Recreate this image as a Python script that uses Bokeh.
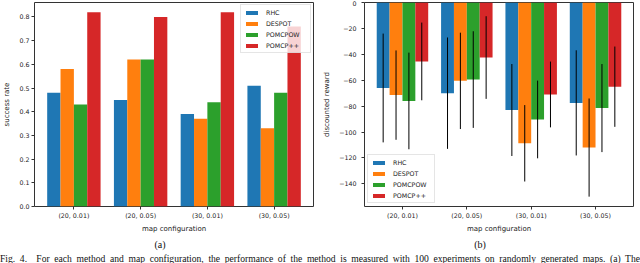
import numpy as np
from bokeh.plotting import figure
from bokeh.models import (FactorRange, Range1d, FixedTicker, PrintfTickFormatter,
                          CustomJSTickFormatter, ColumnDataSource, Div)
from bokeh.layouts import row, column
from bokeh.transform import dodge
from bokeh.embed import file_html
from bokeh.resources import INLINE

# ---------------- data ----------------
configs = ["(20, 0.01)", "(20, 0.05)", "(30, 0.01)", "(30, 0.05)"]
methods = ["RHC", "DESPOT", "POMCPOW", "POMCP++"]
colors = ["#1f77b4", "#ff7f0e", "#2ca02c", "#d62728"]

success_rhc = [0.48, 0.45, 0.39, 0.51]
success_despot = [0.58, 0.62, 0.37, 0.33]
success_pomcpow = [0.43, 0.62, 0.44, 0.48]
success_pomcpp = [0.82, 0.80, 0.82, 0.76]

reward_rhc = [-66.0, -70.0, -83.0, -77.5]
reward_despot = [-71.5, -60.5, -108.7, -112.0]
reward_pomcpow = [-76.0, -59.5, -90.3, -81.5]
reward_pomcpp = [-45.5, -42.5, -71.0, -65.0]

std_rhc = [42.0, 43.0, 35.5, 40.6]
std_despot = [34.5, 37.2, 29.5, 37.9]
std_pomcpow = [37.3, 37.3, 30.0, 34.0]
std_pomcpp = [30.0, 31.9, 25.4, 31.0]

success_ticks = [0.0, 0.1, 0.2, 0.3, 0.4, 0.5, 0.6, 0.7, 0.8]
reward_ticks = [-140, -120, -100, -80, -60, -40, -20, 0]

caption = ("Fig. 4.&nbsp;&nbsp;For each method and map configuration, the performance of the method "
           "is measured with 100 experiments on randomly generated maps. (a) The")

success = [success_rhc, success_despot, success_pomcpow, success_pomcpp]
rewards = [reward_rhc, reward_despot, reward_pomcpow, reward_pomcpp]
stds = [std_rhc, std_despot, std_pomcpow, std_pomcpp]
offsets = [-0.3, -0.1, 0.1, 0.3]

FONT = "DejaVu Sans"


def style(p, ylabel, label_standoff):
    p.xgrid.visible = False
    p.ygrid.visible = False
    p.outline_line_color = "#333333"
    p.outline_line_width = 1
    p.outline_line_alpha = 1
    p.background_fill_color = "white"
    p.border_fill_color = "white"
    for ax in (p.xaxis[0], p.yaxis[0]):
        ax.axis_line_color = None
        ax.major_tick_in = 0
        ax.major_tick_out = 3
        ax.major_tick_line_color = "#333333"
        ax.minor_tick_line_color = None
        ax.major_label_text_font = FONT
        ax.major_label_text_font_size = "6.3px"
        ax.major_label_text_color = "#222222"
        ax.axis_label_text_font = FONT
        ax.axis_label_text_font_size = "7px"
        ax.axis_label_text_font_style = "normal"
        ax.axis_label_text_color = "#222222"
    p.xaxis.axis_label = "map configuration"
    p.xaxis.major_label_standoff = 2
    p.xaxis.axis_label_standoff = 3
    p.yaxis.axis_label = ylabel
    p.yaxis.major_label_standoff = label_standoff
    p.yaxis.axis_label_standoff = 5


def style_legend(p, loc, margin, label_width):
    lg = p.legend[0]
    lg.location = loc
    lg.margin = margin
    lg.padding = 3
    lg.spacing = 3
    lg.glyph_width = 15
    lg.glyph_height = 5
    lg.label_height = 8
    lg.label_width = label_width
    lg.label_standoff = 7
    lg.label_text_font = FONT
    lg.label_text_font_size = "6.3px"
    lg.label_text_color = "#222222"
    lg.border_line_color = "#cccccc"
    lg.border_line_width = 1
    lg.background_fill_alpha = 0.8


# ---------------- (a) success rate ----------------
pa = figure(width=320, height=236, x_range=FactorRange(*configs, range_padding=0.045),
            y_range=Range1d(0, 0.861), output_backend="svg", toolbar_location=None,
            min_border_left=31, min_border_right=7, min_border_top=2, min_border_bottom=30,
            margin=0)
src_a = ColumnDataSource(dict(config=configs, **{m: v for m, v in zip(methods, success)}))
for m, c, off in zip(methods, colors, offsets):
    pa.vbar(x=dodge("config", off, range=pa.x_range), top=m, width=0.2, source=src_a,
            fill_color=c, line_color=None, legend_label=m)
style(pa, "success rate", 2)
pa.yaxis.ticker = FixedTicker(ticks=success_ticks)
pa.yaxis.formatter = PrintfTickFormatter(format="%.1f")
style_legend(pa, "top_right", 2, 41)

# ---------------- (b) discounted reward ----------------
pb = figure(width=320, height=236, x_range=FactorRange(*configs, range_padding=0.045),
            y_range=Range1d(-157.5, 0), output_backend="svg", toolbar_location=None,
            min_border_left=39, min_border_right=7, min_border_top=2, min_border_bottom=30,
            margin=0)
for m, c, off, r, s in zip(methods, colors, offsets, rewards, stds):
    r = np.array(r)
    s = np.array(s)
    src = ColumnDataSource(dict(config=configs, mean=r, lo=r - s, hi=r + s))
    pb.vbar(x=dodge("config", off, range=pb.x_range), top="mean", bottom=0, width=0.2,
            source=src, fill_color=c, line_color=None, legend_label=m)
    pb.segment(x0=dodge("config", off, range=pb.x_range), y0="lo",
               x1=dodge("config", off, range=pb.x_range), y1="hi",
               source=src, line_color="black", line_width=1)
style(pb, "discounted reward", 5)
pb.yaxis.ticker = FixedTicker(ticks=reward_ticks)
pb.yaxis.formatter = CustomJSTickFormatter(
    code="return tick < 0 ? '\\u2212' + Math.abs(tick) : String(tick);")
style_legend(pb, "bottom_left", 3, 38)

# ---------------- captions ----------------
sub_style = ("font-family:'Liberation Serif',serif;font-size:10px;line-height:14px;"
             "text-align:center;color:#111;width:320px;height:14px;")
div_a = Div(text=f'<div style="{sub_style}">(a)</div>', width=320, height=14, margin=0)
div_b = Div(text=f'<div style="{sub_style}">(b)</div>', width=320, height=14, margin=0)
cap = Div(text=('<div style="width:640px;height:13px;overflow:hidden;box-sizing:border-box;'
                "padding-top:4px;font-family:'Liberation Serif',serif;font-size:9.6px;"
                'line-height:10px;white-space:nowrap;text-align:justify;'
                f'text-align-last:justify;color:#111;">{caption}</div>'),
          width=640, height=13, margin=0, styles={"overflow": "hidden"})

layout = column(row(pa, pb, margin=0), row(div_a, div_b, margin=0), cap, margin=0)

open("out.html", "w").write(file_html(layout, INLINE))
